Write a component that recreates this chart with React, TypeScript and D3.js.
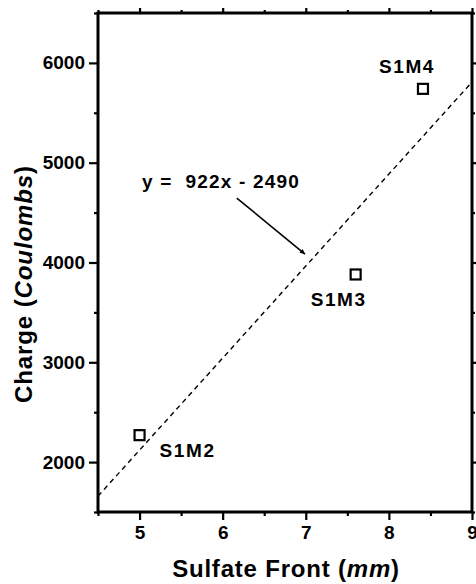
import React, { useEffect, useRef } from 'react';
import * as d3 from 'd3';

// Data
const sampleNames = ['S1M2', 'S1M3', 'S1M4'];
const sulfateFront = [5.0, 7.6, 8.41];
const charge = [2270, 3880, 5740];

// fit line end points (y = 922x - 2490)
const fitX = [4.5, 9];
const fitY = [1659, 5808];

const xMajorTicks = [5, 6, 7, 8, 9];
const xMinorTicks = [4.5, 5.5, 6.5, 7.5, 8.5];
const yMajorTicks = [2000, 3000, 4000, 5000, 6000];
const yMinorTicks = [1500, 2500, 3500, 4500, 5500, 6500];

const App = () => {
  const svgRef = useRef<SVGSVGElement>(null);

  useEffect(() => {
    const width = 476;
    const height = 584;
    const left = 98;
    const right = 472;
    const top = 13;
    const bottom = 512;
    const font = 'Liberation Sans, Arial, Helvetica, sans-serif';

    const svg = d3.select(svgRef.current);
    svg.selectAll('*').remove();
    svg.attr('width', width).attr('height', height);

    const x = d3.scaleLinear().domain([4.5, 9]).range([left, right]);
    const y = d3.scaleLinear().domain([1500, 6500]).range([bottom, top]);

    // Marker for the arrow
    svg
      .append('defs')
      .append('marker')
      .attr('id', 'arrowhead')
      .attr('viewBox', '0 0 10 10')
      .attr('refX', 10)
      .attr('refY', 5)
      .attr('markerWidth', 11)
      .attr('markerHeight', 5)
      .attr('markerUnits', 'userSpaceOnUse')
      .attr('orient', 'auto')
      .append('path')
      .attr('d', 'M0,0 L10,5 L0,10 Z')
      .attr('fill', '#000');

    // Axes (ticks outward on all four sides)
    const styleAxis = (g: d3.Selection<SVGGElement, unknown, null, undefined>) => {
      g.select('.domain').remove();
      g.selectAll('line').attr('stroke', '#000').attr('stroke-width', 2.2);
      g.selectAll('text')
        .attr('fill', '#000')
        .style('font-family', font)
        .style('font-size', '19px')
        .style('font-weight', 'bold');
    };

    svg
      .append('g')
      .attr('transform', `translate(0,${bottom})`)
      .call(d3.axisBottom(x).tickValues(xMajorTicks).tickSize(8).tickPadding(6).tickFormat(d3.format('d')))
      .call(styleAxis);
    svg
      .append('g')
      .attr('transform', `translate(0,${bottom})`)
      .call(d3.axisBottom(x).tickValues(xMinorTicks).tickSize(4).tickFormat(() => ''))
      .call(styleAxis);
    svg
      .append('g')
      .attr('transform', `translate(${left},0)`)
      .call(d3.axisLeft(y).tickValues(yMajorTicks).tickSize(9).tickPadding(4).tickFormat(d3.format('d')))
      .call(styleAxis);
    svg
      .append('g')
      .attr('transform', `translate(${left},0)`)
      .call(d3.axisLeft(y).tickValues(yMinorTicks).tickSize(4).tickFormat(() => ''))
      .call(styleAxis);
    svg
      .append('g')
      .attr('transform', `translate(0,${top})`)
      .call(d3.axisTop(x).tickValues(xMajorTicks).tickSize(5).tickFormat(() => ''))
      .call(styleAxis);
    svg
      .append('g')
      .attr('transform', `translate(0,${top})`)
      .call(d3.axisTop(x).tickValues(xMinorTicks).tickSize(3).tickFormat(() => ''))
      .call(styleAxis);
    svg
      .append('g')
      .attr('transform', `translate(${right},0)`)
      .call(d3.axisRight(y).tickValues(yMajorTicks).tickSize(5).tickFormat(() => ''))
      .call(styleAxis);
    svg
      .append('g')
      .attr('transform', `translate(${right},0)`)
      .call(d3.axisRight(y).tickValues(yMinorTicks).tickSize(3).tickFormat(() => ''))
      .call(styleAxis);

    // Frame
    svg
      .append('rect')
      .attr('x', left)
      .attr('y', top)
      .attr('width', right - left)
      .attr('height', bottom - top)
      .attr('fill', 'none')
      .attr('stroke', '#000')
      .attr('stroke-width', 3);

    // Fit line (dashed)
    const fitPts = fitX.map((d, i) => [d, fitY[i]] as [number, number]);
    svg
      .append('path')
      .attr(
        'd',
        d3
          .line<[number, number]>()
          .x((d) => x(d[0]))
          .y((d) => y(d[1]))(fitPts)
      )
      .attr('fill', 'none')
      .attr('stroke', '#000')
      .attr('stroke-width', 1.4)
      .attr('stroke-dasharray', '5,4');

    // Data points
    const points = sampleNames.map((name, i) => ({ name, sx: sulfateFront[i], q: charge[i] }));
    svg
      .selectAll('rect.pt')
      .data(points)
      .join('rect')
      .attr('class', 'pt')
      .attr('x', (d) => x(d.sx) - 5)
      .attr('y', (d) => y(d.q) - 5)
      .attr('width', 10)
      .attr('height', 10)
      .attr('fill', '#fff')
      .attr('stroke', '#000')
      .attr('stroke-width', 2.2);

    // Point labels
    const labelOffsets = [
      { dx: 20, dy: 22 },
      { dx: -45, dy: 32 },
      { dx: -44, dy: -16 },
    ];
    svg
      .selectAll('text.pt-label')
      .data(points)
      .join('text')
      .attr('class', 'pt-label')
      .attr('x', (d, i) => x(d.sx) + labelOffsets[i].dx)
      .attr('y', (d, i) => y(d.q) + labelOffsets[i].dy)
      .style('font-family', font)
      .style('font-size', '19px')
      .style('font-weight', 'bold')
      .style('letter-spacing', '1.6px')
      .text((d) => d.name);

    // Equation annotation with arrow
    svg
      .append('text')
      .attr('x', 142)
      .attr('y', 188)
      .style('font-family', font)
      .style('font-size', '19px')
      .style('font-weight', 'bold')
      .style('letter-spacing', '1.2px')
      .style('white-space', 'pre')
      .text('y =  922x - 2490');

    svg
      .append('line')
      .attr('x1', x(6.17))
      .attr('y1', y(4646))
      .attr('x2', x(6.99))
      .attr('y2', y(4085))
      .attr('stroke', '#000')
      .attr('stroke-width', 1.6)
      .attr('marker-end', 'url(#arrowhead)');

    // Axis titles
    const xTitle = svg
      .append('text')
      .attr('x', 286)
      .attr('y', 577)
      .attr('text-anchor', 'middle')
      .style('font-family', font)
      .style('font-size', '24px')
      .style('font-weight', 'bold')
      .style('letter-spacing', '0.8px');
    xTitle.append('tspan').text('Sulfate Front (');
    xTitle.append('tspan').style('font-style', 'italic').text('mm');
    xTitle.append('tspan').text(')');

    const yTitle = svg
      .append('text')
      .attr('transform', `translate(32,284) rotate(-90)`)
      .attr('text-anchor', 'middle')
      .style('font-family', font)
      .style('font-size', '24px')
      .style('font-weight', 'bold')
      .style('letter-spacing', '0.9px');
    yTitle.append('tspan').text('Charge (');
    yTitle.append('tspan').style('font-style', 'italic').text('Coulombs');
    yTitle.append('tspan').text(')');
  }, []);

  return <svg ref={svgRef} style={{ position: 'absolute', left: 0, top: 0, background: '#fff' }}></svg>;
};

export default App;
